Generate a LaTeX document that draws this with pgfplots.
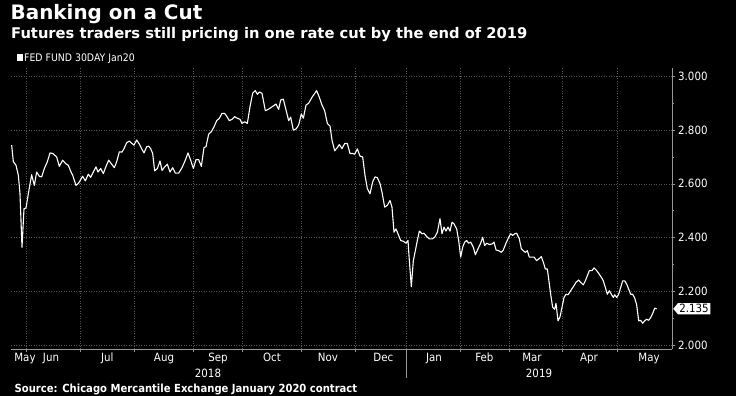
\documentclass[border=0pt]{standalone}
\usepackage{pgfplots}
\pgfplotsset{compat=1.18}
\usepackage{fontspec}
\setmainfont{DejaVu Sans}
\newfontfamily\cond[FakeStretch=0.9]{DejaVu Sans}
\newfontfamily\condb[FakeStretch=0.9]{DejaVu Sans Bold}
\usetikzlibrary{shapes.symbols}
\definecolor{gridc}{RGB}{85,85,85}
\definecolor{axc}{RGB}{150,150,150}
\begin{document}
\begin{tikzpicture}
\fill[black] (0,0) rectangle (736bp,-396bp);
\path[use as bounding box] (0,0) rectangle (736bp,-396bp);
\node[anchor=base west, inner sep=0pt, text=white, font=\bfseries\fontsize{19.9bp}{22bp}\selectfont] at (10.5bp,-19.5bp) {Banking on a Cut};
\node[anchor=base west, inner sep=0pt, text=white, font=\bfseries\fontsize{14.7bp}{16bp}\selectfont] at (11bp,-38bp) {Futures traders still pricing in one rate cut by the end of 2019};
\fill[white] (17.3bp,-54bp) rectangle (22.7bp,-60.7bp);
\node[anchor=base west, inner sep=0pt, text=white, font=\cond\fontsize{10.4bp}{11bp}\selectfont] at (24bp,-61bp) {FED FUND 30DAY Jan20};
\node[anchor=base west, inner sep=0pt, text=white, font=\condb\fontsize{11.15bp}{13bp}\selectfont] at (14.5bp,-392bp) {Source: Chicago Mercantile Exchange January 2020 contract};
\begin{axis}[
  at={(11bp,-349.3bp)}, anchor=south west,
  scale only axis, width=661bp, height=281bp,
  xmin=33, xmax=2016, ymin=1.984, ymax=3.030,
  axis x line*=bottom, axis y line*=right,
  axis line style={draw=axc, line width=0.8bp, -},
  xtick={80,242,403,580,727,905,1067,1219,1381,1527,1687,1853},
  xticklabels={},
  extra x ticks={75,153,322,492,654,816,984,1150,1302,1453,1596,1767,1947},
  extra x tick labels={May,Jun,Jul,Aug,Sep,Oct,Nov,Dec,Jan,Feb,Mar,Apr,May},
  extra x tick style={grid=none, major tick length=0pt,
     xticklabel style={anchor=base, inner sep=0pt, yshift=-11.7bp}},
  ytick={2.0,2.2,2.4,2.6,2.8,3.0},
  minor ytick={2.1,2.3,2.5,2.7,2.9},
  yticklabel pos=right,
  yticklabels={2.000,2.200,2.400,2.600,2.800,3.000},
  yticklabel style={anchor=west, inner sep=0pt, xshift=3.5bp},
  tick align=outside,
  major tick length=2.5bp, minor tick length=2bp,
  tick style={draw=axc, line width=0.6bp},
  xmajorgrids, ymajorgrids,
  major grid style={draw=gridc, line width=0.5bp, dash pattern=on 1bp off 1.5bp},
  ticklabel style={text=white, font=\cond\fontsize{11.4bp}{13bp}\selectfont},
  /pgf/number format/assume math mode=true,
  clip=false,
]
\addplot[white, line width=1.1bp, line join=round] coordinates {
(35,2.744)(40,2.682)(48,2.669)(55,2.632)(60,2.563)(66,2.364)(72,2.507)(78,2.510)
(85,2.563)(95,2.634)(103,2.594)(110,2.644)(118,2.628)(125,2.626)(133,2.657)(142,2.682)
(150,2.715)(158,2.713)(170,2.700)(178,2.665)(188,2.688)(197,2.675)(205,2.669)(212,2.647)
(218,2.632)(228,2.594)(236,2.603)(248,2.628)(256,2.611)(265,2.636)(272,2.624)(280,2.644)
(288,2.663)(294,2.644)(302,2.657)(310,2.638)(318,2.665)(326,2.688)(335,2.673)(343,2.660)
(350,2.682)(358,2.719)(366,2.718)(372,2.731)(380,2.753)(388,2.759)(396,2.750)(402,2.744)
(410,2.763)(418,2.748)(426,2.728)(432,2.715)(440,2.738)(446,2.740)(452,2.731)(458,2.713)
(464,2.648)(472,2.657)(480,2.685)(486,2.650)(494,2.663)(502,2.673)(510,2.644)(518,2.660)
(526,2.640)(536,2.640)(546,2.660)(556,2.688)(564,2.715)(572,2.688)(580,2.657)(588,2.690)
(596,2.690)(604,2.665)(612,2.735)(618,2.738)(626,2.785)(634,2.794)(642,2.812)(650,2.835)
(658,2.844)(666,2.862)(674,2.862)(680,2.852)(688,2.835)(696,2.840)(704,2.850)(712,2.844)
(720,2.840)(726,2.825)(734,2.831)(742,2.825)(750,2.887)(758,2.937)(766,2.947)(772,2.933)
(778,2.942)(786,2.937)(796,2.872)(804,2.877)(812,2.883)(820,2.890)(828,2.897)(836,2.877)
(842,2.912)(850,2.915)(858,2.875)(866,2.835)(872,2.848)(880,2.800)(888,2.804)(896,2.819)
(904,2.860)(910,2.844)(918,2.893)(926,2.900)(936,2.922)(950,2.947)(958,2.922)(966,2.893)
(974,2.872)(982,2.825)(990,2.815)(996,2.763)(1004,2.723)(1012,2.735)(1018,2.746)(1026,2.731)
(1034,2.750)(1042,2.750)(1050,2.713)(1058,2.713)(1064,2.710)(1072,2.730)(1080,2.703)(1088,2.700)
(1095,2.632)(1102,2.582)(1110,2.563)(1118,2.607)(1125,2.626)(1132,2.623)(1140,2.601)(1146,2.569)
(1154,2.513)(1162,2.520)(1170,2.538)(1176,2.513)(1182,2.420)(1188,2.432)(1194,2.414)(1202,2.389)
(1210,2.386)(1218,2.379)(1224,2.389)(1228,2.314)(1234,2.217)(1240,2.314)(1246,2.351)(1252,2.389)
(1258,2.424)(1266,2.414)(1272,2.416)(1280,2.404)(1288,2.395)(1296,2.395)(1304,2.401)(1312,2.420)
(1320,2.470)(1326,2.414)(1332,2.439)(1338,2.424)(1344,2.439)(1350,2.424)(1356,2.457)(1362,2.451)
(1370,2.432)(1376,2.389)(1382,2.327)(1388,2.364)(1394,2.383)(1400,2.389)(1406,2.379)(1412,2.383)
(1420,2.364)(1426,2.336)(1434,2.358)(1442,2.379)(1448,2.401)(1454,2.370)(1460,2.379)(1468,2.374)
(1476,2.376)(1482,2.383)(1488,2.354)(1496,2.351)(1504,2.345)(1510,2.354)(1518,2.379)(1526,2.401)
(1532,2.414)(1538,2.408)(1544,2.414)(1550,2.416)(1558,2.395)(1564,2.358)(1570,2.351)(1576,2.345)
(1582,2.351)(1588,2.327)(1594,2.327)(1602,2.327)(1610,2.314)(1616,2.320)(1624,2.329)(1630,2.308)
(1636,2.283)(1642,2.283)(1646,2.246)(1652,2.189)(1658,2.140)(1664,2.133)(1668,2.155)(1674,2.090)
(1680,2.105)(1686,2.140)(1692,2.177)(1698,2.189)(1704,2.187)(1712,2.202)(1720,2.217)(1728,2.233)
(1736,2.242)(1742,2.233)(1750,2.224)(1756,2.239)(1762,2.258)(1768,2.277)(1776,2.277)(1782,2.287)
(1790,2.277)(1796,2.267)(1804,2.252)(1810,2.239)(1816,2.214)(1822,2.189)(1828,2.202)(1834,2.189)
(1840,2.177)(1844,2.187)(1850,2.177)(1856,2.189)(1862,2.214)(1868,2.239)(1874,2.239)(1880,2.227)
(1886,2.208)(1892,2.189)(1898,2.189)(1904,2.175)(1910,2.150)(1916,2.090)(1922,2.092)(1928,2.081)
(1934,2.090)(1940,2.096)(1946,2.092)(1952,2.102)(1958,2.117)(1964,2.137)(1970,2.135)
};
\node[signal, signal to=west, signal pointer angle=100, fill=white, text=black, inner xsep=1.5bp, inner ysep=1.2bp, anchor=west, font=\cond\fontsize{11.4bp}{13bp}\selectfont] at (axis cs:2019,2.135) {2.135};
\node[anchor=base, inner sep=0pt, text=white, font=\cond\fontsize{11.4bp}{13bp}\selectfont] at ([yshift=-27.7bp]axis cs:624,1.984) {2018};
\node[anchor=base, inner sep=0pt, text=white, font=\cond\fontsize{11.4bp}{13bp}\selectfont] at ([yshift=-27.7bp]axis cs:1617,1.984) {2019};
\draw[axc, line width=0.6bp] (axis cs:1219,1.984) -- ([yshift=-29bp]axis cs:1219,1.984);
\end{axis}
\end{tikzpicture}
\end{document}
